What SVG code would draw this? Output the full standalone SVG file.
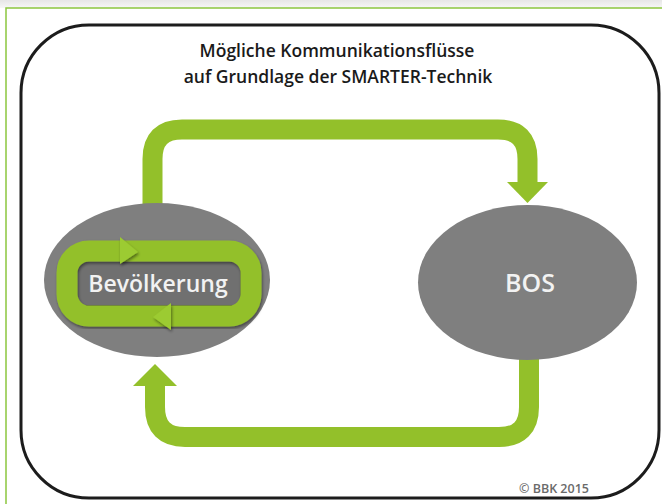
<svg xmlns="http://www.w3.org/2000/svg" width="662" height="504" viewBox="0 0 662 504">
  <defs>
    <style>
      .title { font-family: "Open Sans", "Liberation Sans", sans-serif; font-weight: 600; font-size: 17.5px; fill: #1a1a1a; text-anchor: middle; }
      .node-label { font-family: "Open Sans", "Liberation Sans", sans-serif; font-weight: 600; fill: #f2f2f2; text-anchor: middle; }
      .node-shape { fill: #7f7f7f; }
      .flow { fill: none; stroke: #93c02a; stroke-width: 20; }
      .head { fill: #93c02a; }
      .copy { font-family: "Open Sans", "Liberation Sans", sans-serif; font-weight: 600; font-size: 12.5px; fill: #6a6a6a; }
    </style>
    <linearGradient id="topFade" x1="0" y1="0" x2="0" y2="1">
      <stop offset="0" stop-color="#e6e6e6"/>
      <stop offset="1" stop-color="#f7f7f7"/>
    </linearGradient>
    <filter id="softShadow" x="-20%" y="-20%" width="140%" height="140%">
      <feGaussianBlur in="SourceAlpha" stdDeviation="1.5"/>
      <feOffset dx="1" dy="1.5" result="b"/>
      <feComponentTransfer><feFuncA type="linear" slope="0.45"/></feComponentTransfer>
      <feMerge><feMergeNode/><feMergeNode in="SourceGraphic"/></feMerge>
    </filter>
  </defs>

  <!-- page background and frame -->
  <rect x="0" y="0" width="662" height="504" fill="#ffffff"/>
  <rect x="0" y="0" width="662" height="8" fill="url(#topFade)"/>
  <rect x="6" y="8" width="700" height="520" fill="none" stroke="#8cc63f" stroke-width="1.5"/>
  <rect x="21" y="25" width="638" height="473" rx="68" ry="68" fill="#ffffff" stroke="#1c1c1c" stroke-width="3"/>

  <!-- title -->
  <text class="title" x="337" y="57">Mögliche Kommunikationsflüsse</text>
  <text class="title" x="338" y="83">auf Grundlage der SMARTER-Technik</text>

  <!-- connectors -->
  <g id="connectors">
    <path class="flow" d="M152.5,205 V159 Q152.5,129.5 182,129.5 H498 Q527.5,129.5 527.5,159 V184"/>
    <polygon class="head" points="507,182 548,182 527.5,203"/>
    <path class="flow" d="M529,355 V407 Q529,437 499,437 H185 Q155,437 155,407 V384"/>
    <polygon class="head" points="133,386 177,386 155,364"/>
  </g>

  <!-- node: population -->
  <g id="node-bevoelkerung">
    <ellipse class="node-shape" cx="157" cy="280" rx="113" ry="77"/>
    <rect x="77" y="262" width="163" height="43" rx="4" fill="#6f6f6f" filter="url(#softShadow)"/>
    <rect x="67" y="251" width="184" height="65" rx="22" ry="22" fill="none" stroke="#93c02a" stroke-width="21" filter="url(#softShadow)"/>
    <polygon points="120,237 138,252 120,264" fill="#9ccb30" filter="url(#softShadow)"/>
    <polygon points="171,303 153,317 171,330" fill="#9ccb30" filter="url(#softShadow)"/>
    <text class="node-label" x="158" y="292" font-size="23">Bevölkerung</text>
  </g>

  <!-- node: BOS -->
  <g id="node-bos">
    <ellipse class="node-shape" cx="527.5" cy="282.5" rx="109.5" ry="77.5"/>
    <text class="node-label" x="530" y="292" font-size="25">BOS</text>
  </g>

  <text class="copy" x="519" y="493">© BBK 2015</text>
</svg>
